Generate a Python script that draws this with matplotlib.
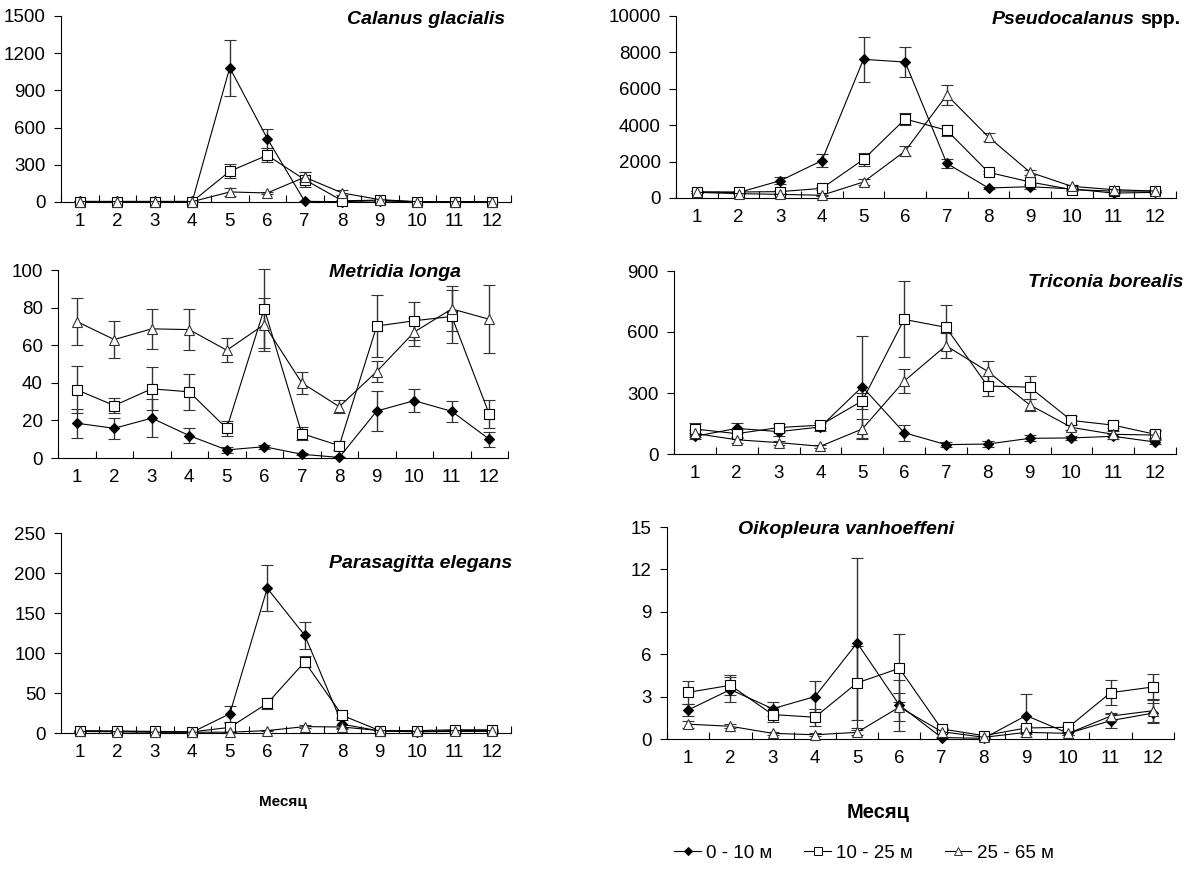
import matplotlib
matplotlib.use("Agg")
import matplotlib.pyplot as plt
from matplotlib.lines import Line2D
import numpy as np

plt.rcParams["font.family"] = ["Liberation Sans", "DejaVu Sans"]

W, H = 1188, 869

months = list(range(1, 13))
series_labels = ["0 - 10 м", "10 - 25 м", "25 - 65 м"]

# Calanus glacialis
cal_0_10 = [5, 5, 5, 5, 1083, 512, 5, 3, 10, 0, 0, 0]
cal_0_10_err = [0, 0, 0, 0, 225, 80, 0, 0, 0, 0, 0, 0]
cal_10_25 = [3, 3, 3, 3, 248, 377, 180, 10, 15, 2, 2, 2]
cal_10_25_err = [0, 0, 0, 0, 57, 55, 60, 5, 5, 0, 0, 0]
cal_25_65 = [3, 3, 3, 3, 81, 73, 200, 73, 19, 2, 2, 2]
cal_25_65_err = [0, 0, 0, 0, 30, 10, 40, 20, 5, 0, 0, 0]

# Pseudocalanus spp.
pse_0_10 = [330, 300, 950, 2050, 7620, 7470, 1900, 550, 620, 500, 270, 310]
pse_0_10_err = [50, 50, 200, 350, 1250, 800, 250, 80, 100, 60, 50, 50]
pse_10_25 = [330, 330, 350, 530, 2120, 4340, 3720, 1410, 880, 460, 380, 380]
pse_10_25_err = [50, 50, 80, 80, 350, 330, 300, 100, 100, 60, 50, 50]
pse_25_65 = [310, 240, 200, 150, 880, 2580, 5660, 3350, 1410, 640, 460, 380]
pse_25_65_err = [50, 40, 40, 40, 150, 250, 550, 200, 120, 80, 50, 50]

# Metridia longa
met_0_10 = [18.5, 15.8, 21.2, 11.9, 4.3, 6.0, 2.0, 0.3, 25, 30.5, 24.8, 10]
met_0_10_err = [7.7, 5.5, 10, 4, 1.5, 1, 0.5, 0, 10.5, 6, 5.5, 4]
met_10_25 = [36.3, 27.9, 36.8, 35.2, 15.7, 79.4, 13, 6.6, 70.2, 73, 75.3, 23.3]
met_10_25_err = [12.5, 4, 11.5, 9.5, 4, 21, 3.5, 2.5, 16.5, 10, 14, 7.5]
met_25_65 = [72.6, 63, 68.7, 68.3, 57.3, 71, 40, 27.3, 46, 67, 79.3, 73.8]
met_25_65_err = [12.3, 10, 10.7, 11, 6.5, 14, 6, 3.5, 5.5, 7.5, 12, 18]

# Triconia borealis
tri_0_10 = [87, 126, 110, 133, 331, 105, 46, 49, 77, 79, 87, 59]
tri_0_10_err = [15, 25, 20, 20, 251, 40, 12, 15, 15, 10, 12, 12]
tri_10_25 = [123, 100, 130, 142, 261, 662, 623, 334, 329, 165, 142, 97]
tri_10_25_err = [30, 20, 20, 15, 40, 187, 111, 50, 57, 20, 15, 20]
tri_25_65 = [101, 70, 56, 38, 123, 358, 533, 406, 242, 131, 97, 93]
tri_25_65_err = [15, 15, 10, 8, 50, 58, 62, 50, 30, 15, 15, 20]

# Parasagitta elegans
par_0_10 = [2, 2, 1.5, 1, 24, 181, 122, 11, 2.5, 1.5, 2, 2]
par_0_10_err = [0.5, 0.5, 0.5, 0.5, 10, 29, 17, 5, 0.5, 0.5, 0.5, 0.5]
par_10_25 = [3, 2.5, 2, 1.5, 7, 37, 89, 22, 3, 3, 4, 4]
par_10_25_err = [1, 1, 0.5, 0.5, 6, 7, 7, 3, 1, 1, 1, 1]
par_25_65 = [2, 1.5, 1, 1, 1, 3, 8, 7.5, 3, 2, 3, 3]
par_25_65_err = [0.5, 0.5, 0.5, 0.5, 0.5, 1, 2, 2, 1, 0.5, 1, 1]

# Oikopleura vanhoeffeni
oik_0_10 = [2.05, 3.5, 2.14, 3.0, 6.8, 2.4, 0.1, 0.05, 1.66, 0.4, 1.3, 1.83]
oik_0_10_err = [0.45, 0.9, 0.5, 1.1, 6.0, 1.8, 0.05, 0.02, 1.55, 0.1, 0.5, 0.7]
oik_10_25 = [3.3, 3.8, 1.73, 1.54, 3.97, 5.0, 0.71, 0.24, 0.78, 0.83, 3.28, 3.68]
oik_10_25_err = [0.8, 0.7, 0.5, 0.6, 2.6, 2.4, 0.1, 0.05, 0.15, 0.15, 0.9, 0.9]
oik_25_65 = [1.05, 0.9, 0.4, 0.3, 0.47, 2.26, 0.52, 0.12, 0.47, 0.4, 1.62, 2.0]
oik_25_65_err = [0.25, 0.15, 0.1, 0.1, 0.2, 1.0, 0.1, 0.05, 0.1, 0.1, 0.25, 0.8]

STYLES = [
    dict(marker="D", ms=5.5, mfc="black", mec="black"),
    dict(marker="s", ms=7.5, mfc="white", mec="black"),
    dict(marker="^", ms=7.5, mfc="white", mec="#333333"),
]


def px_axes(fig, left, top, right, bottom):
    return fig.add_axes([left / W, 1 - bottom / H, (right - left) / W, (bottom - top) / H])


def draw_panel(ax, data, ymax, ystep):
    for (vals, errs), st in zip(data, STYLES):
        cont = ax.errorbar(months, vals, yerr=errs, color="black", lw=0.8,
                           ecolor="#333333", elinewidth=1.0, capsize=4,
                           capthick=1.0, markeredgewidth=0.8, zorder=3, **st)
        for art in cont.get_children():
            art.set_clip_on(False)
    ax.set_xlim(0.5, 12.5)
    ax.set_ylim(0, ymax)
    ax.set_yticks(np.arange(0, ymax + ystep / 2, ystep))
    ax.set_xticks(months)
    ax.set_xticks(np.arange(0.5, 13, 1), minor=True)
    ax.tick_params(axis="x", which="major", length=0, pad=8, labelsize=13.5)
    ax.tick_params(axis="x", which="minor", direction="in", length=5, width=0.8)
    ax.tick_params(axis="y", direction="out", length=5, width=0.8, pad=6, labelsize=13.5)
    for s in ("top", "right"):
        ax.spines[s].set_visible(False)
    for s in ("left", "bottom"):
        ax.spines[s].set_linewidth(0.8)


fig = plt.figure(figsize=(W / 100, H / 100), dpi=100)

ax1 = px_axes(fig, 61, 16, 511, 202)
draw_panel(ax1, [(cal_0_10, cal_0_10_err), (cal_10_25, cal_10_25_err),
                 (cal_25_65, cal_25_65_err)], 1500, 300)
ax2 = px_axes(fig, 676, 16, 1176, 198)
draw_panel(ax2, [(pse_0_10, pse_0_10_err), (pse_10_25, pse_10_25_err),
                 (pse_25_65, pse_25_65_err)], 10000, 2000)
ax3 = px_axes(fig, 58, 270, 508, 458)
draw_panel(ax3, [(met_0_10, met_0_10_err), (met_10_25, met_10_25_err),
                 (met_25_65, met_25_65_err)], 100, 20)
ax4 = px_axes(fig, 674, 271, 1176, 454)
draw_panel(ax4, [(tri_0_10, tri_0_10_err), (tri_10_25, tri_10_25_err),
                 (tri_25_65, tri_25_65_err)], 900, 300)
ax5 = px_axes(fig, 61, 533, 511, 733)
draw_panel(ax5, [(par_0_10, par_0_10_err), (par_10_25, par_10_25_err),
                 (par_25_65, par_25_65_err)], 250, 50)
ax6 = px_axes(fig, 667, 527, 1174, 739)
draw_panel(ax6, [(oik_0_10, oik_0_10_err), (oik_10_25, oik_10_25_err),
                 (oik_25_65, oik_25_65_err)], 15, 3)


def ftext(x, y, s, **kw):
    return fig.text(x / W, 1 - y / H, s, **kw)


tkw = dict(fontsize=14, fontweight="bold", fontstyle="italic", va="center")
ftext(505, 19, "Calanus glacialis", ha="right", **tkw)
spp = ftext(1180, 19, "spp.", ha="right", fontsize=14, fontweight="bold", va="center")
fig.canvas.draw()
bb = spp.get_window_extent(fig.canvas.get_renderer())
ftext(bb.x0 - 5, 19, "Pseudocalanus", ha="right", **tkw)
ftext(395, 272, "Metridia longa", ha="center", **tkw)
ftext(1183, 283, "Triconia borealis", ha="right", **tkw)
ftext(512, 563, "Parasagitta elegans", ha="right", **tkw)
ftext(846, 530, "Oikopleura vanhoeffeni", ha="center", **tkw)

ftext(283, 802, "Месяц", ha="center", va="center", fontsize=11, fontweight="bold")
ftext(878, 812, "Месяц", ha="center", va="center", fontsize=14.5, fontweight="bold")

handles = [Line2D([0], [0], color="black", lw=0.8, marker=st["marker"],
                  ms=st["ms"] * 0.7, mfc=st["mfc"], mec=st["mec"], mew=0.7)
           for st in STYLES]
fig.legend(handles, series_labels, loc="center", bbox_to_anchor=(864 / W, 1 - 853 / H),
           ncol=3, frameon=False, fontsize=13.5, handlelength=1.4, handletextpad=0.3,
           columnspacing=1.7)

fig.savefig("out.png", dpi=100, facecolor="white")
